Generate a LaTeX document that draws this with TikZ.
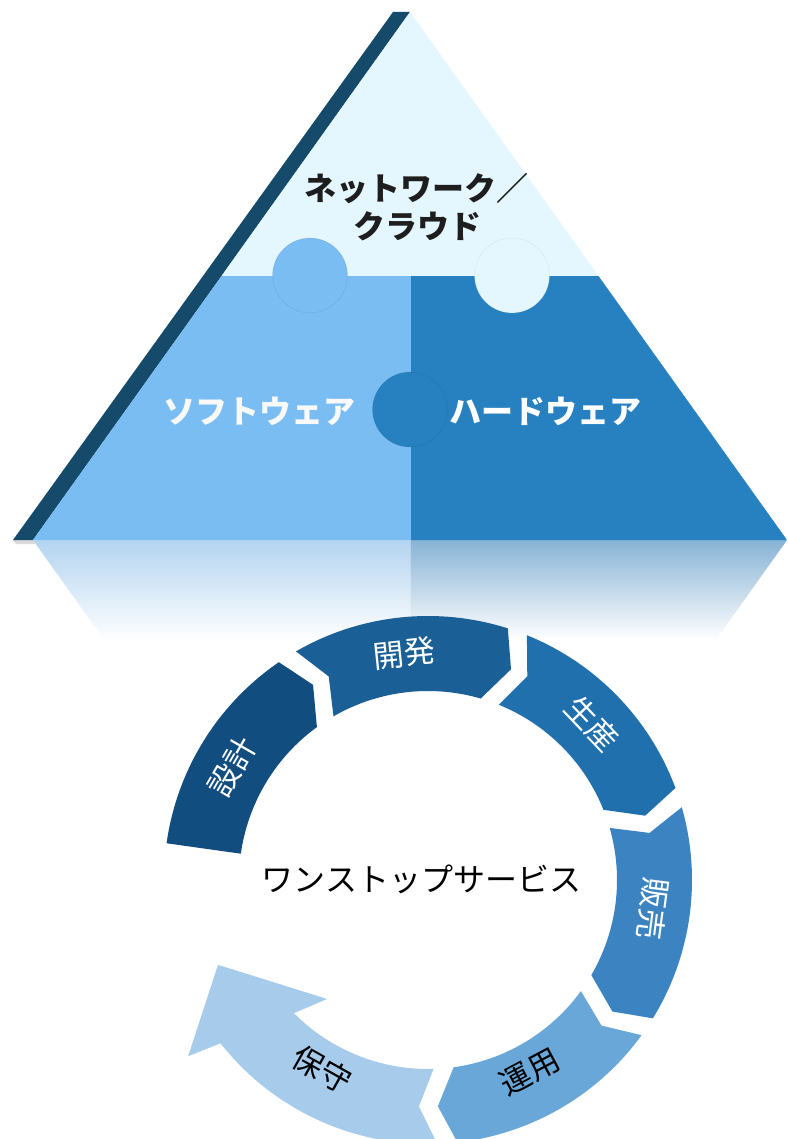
\documentclass[tikz,border=0pt]{standalone}
\usepackage{fontspec}
\newfontfamily\jpfont{Noto Sans CJK JP}
\definecolor{stripe}{HTML}{164A6B}
\definecolor{topcol}{HTML}{E4F7FE}
\definecolor{softcol}{HTML}{7ABDF3}
\definecolor{hardcol}{HTML}{2781C0}
\definecolor{reflL}{HTML}{B3D4F0}
\definecolor{reflR}{HTML}{88B3D5}
\definecolor{cA}{HTML}{124D80}
\definecolor{cB}{HTML}{1B5F97}
\definecolor{cC}{HTML}{2170AE}
\definecolor{cD}{HTML}{3B84C1}
\definecolor{cE}{HTML}{6AA7D9}
\definecolor{cF}{HTML}{A7CBEB}
\definecolor{darktext}{HTML}{1E1E1E}
\tikzset{
  pyrlabel/.style={font=\jpfont\bfseries\fontsize{32}{38}\selectfont, inner sep=0pt},
  ringlabel/.style={font=\jpfont\fontsize{31}{36}\selectfont, inner sep=0pt},
  centerlabel/.style={font=\jpfont\fontsize{32}{38}\selectfont, inner sep=0pt, text=black},
  knobline/.style={line width=0.6pt, opacity=0.25},
}
\begin{document}
\begin{tikzpicture}[x=1pt,y=1pt]
\useasboundingbox (0,0) rectangle (787,-1139);
\clip (0,0) rectangle (787,-1139);
\fill[white] (0,0) rectangle (787,-1139);

% ---------- reflection (fading in strips) ----------
\foreach \i in {0,...,49} {
  \pgfmathsetmacro\ya{-540-2*\i}
  \pgfmathsetmacro\yb{-540-2*\i-2.6}
  \pgfmathsetmacro\xl{33+0.714*2*\i}
  \pgfmathsetmacro\xlb{33+0.714*(2*\i+2.6)}
  \pgfmathsetmacro\xr{787-0.714*2*\i}
  \pgfmathsetmacro\xrb{787-0.714*(2*\i+2.6)}
  \pgfmathsetmacro\pc{100-2*\i}
  \fill[reflL!\pc!white] (\xl,\ya) -- (410.5,\ya) -- (410.5,\yb) -- (\xlb,\yb) -- cycle;
  \fill[reflR!\pc!white] (410.5,\ya) -- (\xr,\ya) -- (\xrb,\yb) -- (410.5,\yb) -- cycle;
}
\fill[black, opacity=0.15] (13,-540) -- (33,-540) -- (35,-544) -- (16,-544) -- cycle;

% ---------- pyramid ----------
\fill[stripe] (393,-12) -- (410,-12) -- (33,-540) -- (13,-540) -- cycle;
\begin{scope}
  \clip (410,-12) -- (787,-540) -- (33,-540) -- cycle;
  \fill[topcol] (0,0) rectangle (787,-275.7);
  \fill[softcol] (0,-275.7) rectangle (410.5,-541);
  \fill[hardcol] (410.5,-275.7) rectangle (787,-541);
  \fill[softcol] (310,-275.5) circle (37.4);
  \fill[topcol] (512,-275.5) circle (37.4);
  \fill[hardcol] (410,-409.5) circle (37.4);
  \draw[knobline, draw=softcol!70!black] (310,-275.5) circle (37.4);
  \draw[knobline, draw=topcol!80!black] (512,-275.5) circle (37.4);
  \draw[knobline, draw=hardcol!70!black] (410,-409.5) circle (37.4);
\end{scope}

\node[pyrlabel, text=darktext] (net) at (416.5,-188) {ネットワーク／};
\node[pyrlabel, text=darktext] (cloud) at (417.5,-226) {クラウド};
\node[pyrlabel, text=white!95!gray] (soft) at (259,-411) {ソフトウェア};
\node[pyrlabel, text=white] (hard) at (545,-411) {ハードウェア};

% ---------- cycle ----------
\begin{scope}[shift={(428,-880)}]
  % first segment (straight tail)
  \fill[cA] (172:264) arc[start angle=172, end angle=124.4, radius=264]
     -- (120.5:226.5) -- (126:189) arc[start angle=126, end angle=172, radius=189] -- cycle;
  % middle segments
  \foreach \a/\c in {120/cB, 68/cC, 16/cD, -36/cE} {
    \fill[\c] (\a:264) arc[start angle=\a, end angle=\a-47.6, radius=264]
       -- (\a-51.5:226.5) -- (\a-46.2:189) arc[start angle=\a-46.2, end angle=\a, radius=189]
       -- (\a-4:226.5) -- cycle;
  }
  % last segment with big arrowhead
  \fill[cF] (-88:264) arc[start angle=-88, end angle=-141.8, radius=264]
     -- (-143.7:297.6) -- (-158:226.5) -- (-130.3:156) -- (-135.2:189)
     arc[start angle=-135.2, end angle=-88.3, radius=189] -- (-92.3:226.5) -- cycle;

  \node[ringlabel, text=white, rotate=60] (sekkei) at (150:226) {設計};
  \node[ringlabel, text=white, rotate=6] (kaihatsu) at (96:228) {開発};
  \node[ringlabel, text=white, rotate=-46.4] (seisan) at (43.6:227) {生産};
  \node[ringlabel, text=white, rotate=-97.4] (hanbai) at (-7.4:227) {販売};
  \node[ringlabel, text=black, rotate=28] (unyou) at (-62:217) {運用};
  \node[ringlabel, text=black, rotate=-29.3] (hoshu) at (-119.3:217) {保守};
\end{scope}

\node[centerlabel] (onestop) at (421.5,-879) {ワンストップサービス};
\end{tikzpicture}
\end{document}
